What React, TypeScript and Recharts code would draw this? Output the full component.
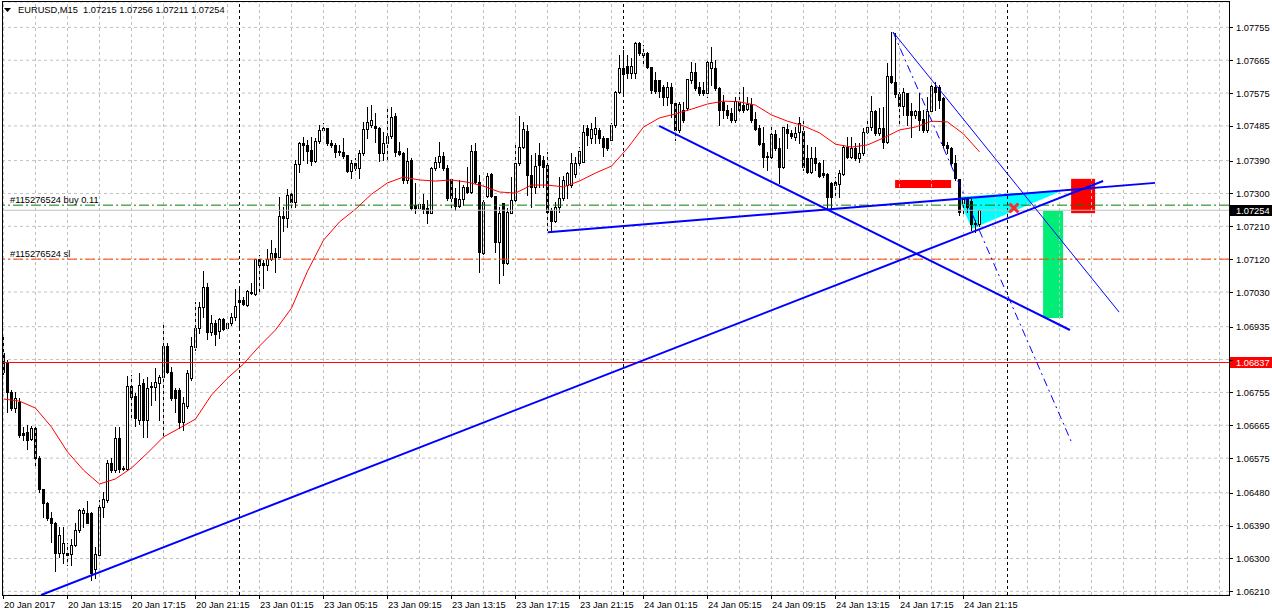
import React from 'react';
import {
  ComposedChart, Bar, Line, Area, XAxis, YAxis, CartesianGrid,
  ReferenceLine, ReferenceArea, ReferenceDot,
} from 'recharts';

// ---- candle data (EURUSD M15, prices in points = price * 100000), bar index = position ----
const openPts = [
  106863,106838,106756,106712,106729,106644,106646,106627,106657,106575,
  106490,106452,106411,106397,106315,106315,106315,106312,106337,106378,
  106424,106424,106424,106271,106309,106441,106460,106561,106542,106630,
  106548,106545,106772,106745,106679,106781,106679,106772,106770,106781,
  106797,106882,106811,106761,106761,106674,106718,106794,106879,106931,
  106989,107044,106920,106945,106923,106956,106931,106945,106961,107008,
  107008,106994,107030,107024,107120,107109,107104,107120,107137,107126,
  107238,107233,107298,107277,107381,107438,107433,107419,107389,107444,
  107474,107479,107438,107433,107416,107414,107405,107361,107383,107370,
  107411,107477,107488,107485,107479,107411,107438,107457,107512,107416,
  107411,107337,107392,107268,107260,107271,107260,107246,107370,107386,
  107403,107370,107340,107287,107266,107285,107318,107304,107416,107331,
  107137,107293,107353,107293,107167,107274,107109,107246,107282,107383,
  107427,107471,107351,107318,107405,107392,107378,107255,107224,107263,
  107287,107323,107323,107353,107383,107386,107479,107452,107463,107474,
  107452,107452,107446,107488,107578,107644,107649,107630,107630,107712,
  107679,107685,107646,107611,107611,107592,107564,107592,107548,107474,
  107529,107534,107611,107633,107592,107583,107575,107644,107644,107589,
  107551,107529,107520,107501,107551,107542,107531,107545,107504,107479,
  107438,107403,107400,107463,107424,107372,107477,107466,107455,107468,
  107471,107397,107359,107397,107383,107356,107353,107329,107331,107326,
  107353,107427,107400,107424,107397,107411,107468,107482,107526,107466,
  107479,107441,107622,107605,107572,107540,107575,107526,107515,107526,
  107504,107474,107526,107592,107592,107561,107433,107424,107383,107340,
  107274,107287,107279,107219,107215,
];
const highPts = [
  106915,106844,106761,106756,106739,106660,106666,106663,106660,106581,
  106490,106455,106427,106400,106386,106386,106342,106353,106397,106435,
  106438,106457,106427,106331,106460,106482,106570,106575,106660,106660,
  106553,106800,106803,106753,106808,106792,106797,106783,106822,106803,
  106948,106890,106824,106767,106767,106742,106816,106907,107003,107003,
  107087,107055,106967,106953,106959,106959,106948,106972,107038,107041,
  107016,107035,107055,107120,107131,107118,107148,107172,107150,107290,
  107263,107312,107309,107392,107441,107455,107446,107455,107452,107488,
  107493,107479,107446,107438,107433,107452,107405,107392,107397,107419,
  107496,107537,107542,107520,107482,107468,107537,107537,107520,107441,
  107414,107424,107397,107329,107277,107298,107282,107372,107400,107441,
  107414,107378,107342,107315,107337,107323,107372,107433,107438,107351,
  107282,107356,107356,107293,107263,107274,107260,107345,107438,107512,
  107496,107488,107405,107411,107438,107403,107414,107260,107277,107345,
  107348,107359,107411,107400,107427,107488,107488,107493,107509,107479,
  107457,107452,107493,107581,107679,107693,107679,107671,107715,107715,
  107707,107688,107646,107633,107611,107597,107605,107603,107551,107551,
  107551,107614,107660,107657,107605,107605,107666,107701,107666,107592,
  107570,107542,107534,107564,107578,107592,107564,107561,107523,107488,
  107482,107414,107488,107474,107452,107482,107490,107474,107482,107509,
  107507,107433,107427,107427,107386,107392,107356,107331,107345,107364,
  107433,107455,107455,107438,107438,107479,107507,107567,107529,107534,
  107537,107657,107742,107740,107578,107589,107575,107548,107529,107575,
  107529,107564,107597,107605,107597,107564,107441,107427,107405,107340,
  107290,107290,107287,107227,107256,
];
const lowPts = [
  106805,106701,106707,106701,106633,106624,106600,106624,106550,106482,
  106413,106405,106345,106265,106304,106287,106282,106282,106334,106372,
  106386,106397,106241,106246,106304,106413,106455,106537,106537,106537,
  106542,106542,106687,106663,106668,106633,106633,106720,106734,106679,
  106630,106808,106734,106701,106657,106652,106712,106789,106871,106918,
  106961,106901,106912,106885,106904,106926,106926,106940,106953,106934,
  106994,106992,107024,107022,107030,107041,107090,107118,107085,107126,
  107197,107208,107263,107263,107359,107392,107383,107378,107386,107438,
  107468,107433,107427,107400,107405,107397,107359,107342,107364,107342,
  107405,107452,107482,107441,107389,107392,107392,107452,107403,107405,
  107329,107329,107255,107246,107255,107246,107219,107246,107364,107372,
  107364,107282,107255,107255,107263,107268,107301,107301,107329,107085,
  107134,107290,107290,107140,107055,107077,107107,107246,107277,107378,
  107424,107296,107263,107301,107318,107318,107200,107194,107222,107249,
  107282,107287,107318,107345,107372,107386,107433,107438,107438,107438,
  107403,107419,107446,107482,107575,107575,107616,107616,107616,107679,
  107652,107644,107575,107575,107564,107542,107542,107509,107446,107468,
  107496,107529,107603,107583,107570,107570,107564,107597,107583,107488,
  107507,107507,107496,107496,107523,107523,107529,107496,107474,107433,
  107372,107364,107397,107419,107329,107370,107424,107452,107446,107438,
  107364,107356,107356,107364,107345,107345,107260,107255,107296,107290,
  107351,107397,107397,107392,107386,107405,107466,107474,107460,107460,
  107424,107438,107603,107564,107488,107515,107488,107455,107507,107474,
  107468,107468,107523,107529,107534,107427,107411,107378,107337,107241,
  107241,107249,107200,107194,107211,
];
const closePts = [
  106811,106756,106712,106739,106638,106638,106624,106657,106575,106490,
  106452,106411,106397,106315,106364,106342,106309,106337,106378,106433,
  106433,106397,106260,106312,106441,106463,106561,106542,106630,106545,
  106545,106772,106742,106685,106775,106679,106767,106770,106783,106797,
  106882,106811,106739,106739,106674,106726,106808,106882,106931,106989,
  107044,106920,106945,106915,106956,106929,106945,106961,106992,107003,
  106997,107033,107027,107120,107104,107104,107120,107137,107126,107238,
  107233,107296,107277,107381,107438,107433,107416,107389,107444,107474,
  107479,107438,107433,107414,107414,107403,107361,107383,107370,107411,
  107477,107496,107501,107479,107411,107438,107457,107509,107414,107408,
  107337,107389,107260,107260,107271,107257,107246,107370,107386,107403,
  107370,107287,107287,107266,107285,107318,107304,107416,107331,107140,
  107277,107348,107293,107167,107246,107109,107249,107282,107383,107427,
  107477,107351,107318,107375,107378,107372,107249,107224,107263,107287,
  107337,107356,107383,107383,107416,107468,107460,107477,107479,107452,
  107427,107424,107488,107578,107644,107627,107630,107649,107712,107685,
  107685,107646,107583,107581,107581,107564,107592,107548,107474,107545,
  107501,107614,107633,107589,107575,107575,107660,107660,107589,107529,
  107529,107515,107501,107553,107529,107529,107545,107501,107477,107435,
  107400,107400,107463,107424,107372,107482,107466,107457,107466,107493,
  107372,107359,107397,107383,107348,107351,107290,107290,107323,107356,
  107427,107400,107424,107397,107411,107468,107482,107526,107466,107479,
  107441,107622,107605,107572,107540,107578,107515,107515,107526,107501,
  107474,107526,107594,107578,107556,107433,107424,107383,107342,107249,
  107285,107263,107216,107216,107254,
];

// ---- moving average (red), read every 4 bars ----
const maBars = [
  0,4,8,12,16,20,24,28,32,36,40,44,48,52,56,60,64,68,72,76,80,84,88,92,96,100,
  104,108,112,116,120,124,128,132,136,140,144,148,152,156,160,164,168,172,176,180,
  184,188,192,196,200,204,208,212,216,220,224,228,232,236,240,244,
];
const maPts = [
  106737,106731,106712,106660,106592,106542,106504,106518,106548,106589,
  106633,106657,106682,106748,106794,106833,106882,106926,106986,107087,
  107172,107222,107257,107298,107329,107345,107337,107334,107337,107331,
  107320,107304,107301,107323,107323,107318,107334,107356,107375,107424,
  107482,107507,107518,107531,107545,107553,107551,107542,107515,107498,
  107485,107466,107435,107427,107433,107452,107474,107482,107498,107496,
  107463,107414,
];

// ---- axes ----
const priceTicks = [
  1.07755, 1.07665, 1.07575, 1.07485, 1.0739, 1.073, 1.0721, 1.0712, 1.0703,
  1.06935, 1.06845, 1.06755, 1.06665, 1.06575, 1.0648, 1.0639, 1.063, 1.0621,
];
const priceTickLabels = [
  '1.07755', '1.07665', '1.07575', '1.07485', '1.07390', '1.07300', '1.07210', '1.07120', '1.07030',
  '1.06935', '', '1.06755', '1.06665', '1.06575', '1.06480', '1.06390', '1.06300', '1.06210',
];
const timeTickBars = [0, 16, 32, 48, 64, 80, 96, 112, 128, 144, 160, 176, 192, 208, 224, 240];
const timeTickLabels = [
  '20 Jan 2017', '20 Jan 13:15', '20 Jan 17:15', '20 Jan 21:15', '23 Jan 01:15', '23 Jan 05:15',
  '23 Jan 09:15', '23 Jan 13:15', '23 Jan 17:15', '23 Jan 21:15', '24 Jan 01:15', '24 Jan 05:15',
  '24 Jan 09:15', '24 Jan 13:15', '24 Jan 17:15', '24 Jan 21:15',
];
const gridBars = [
  0, 8, 16, 24, 32, 40, 48, 56, 64, 72, 80, 88, 96, 104, 112, 120, 128, 136, 144, 152,
  160, 168, 176, 184, 192, 200, 208, 216, 224, 232, 240, 248, 256, 264, 272, 280, 288, 296, 304,
];
const daySeparatorBars = [59, 155, 251];

// ---- levels ----
const levelRed = 1.06837;
const orderOpenPrice = 1.07268;
const stopLossPrice = 1.0712;
const bidPrice = 1.07254;
const orderText = '#115276524 buy 0.11';
const slText = '#115276524 sl';
const titleText = 'EURUSD,M15  1.07215 1.07256 1.07211 1.07254';

// ---- trendlines (bar, price) ----
const trendStartBars = [136.1, 9.4, 163.9, 222.4, 222.4];
const trendStartPrices = [1.07194, 1.062, 1.07485, 1.07742, 1.07742];
const trendEndBars = [287.9, 274.9, 266.6, 278.9, 267.1];
const trendEndPrices = [1.07329, 1.07334, 1.06926, 1.06975, 1.06616];
const trendWidths = [2, 2, 2, 1, 1];
const trendDashes = [undefined, undefined, undefined, undefined, '8 4 2 4'];

// ---- cyan triangle ----
const triBars = [238.6, 242.1, 264.9];
const triLow = [1.0729, 1.07203, 1.07309];
const triHigh = [1.0729, 1.07293, 1.07309];

// ---- rectangles ----
const boxX1 = [222.9, 259.9, 266.9];
const boxX2 = [236.9, 264.9, 272.9];
const boxY1 = [1.07315, 1.06959, 1.07246];
const boxY2 = [1.07337, 1.07252, 1.0734];
const boxColors = ['#ff0000', '#00ee76', '#ff0000'];

// ---- cross marker ----
const crossBar = 252.6;
const crossPrice = 1.0726;

const PRICE_DOMAIN: [number, number] = [1.062, 1.078245];
const BAR_DOMAIN: [number, number] = [-0.375, 306.375];
const FONT = '"Liberation Sans", Arial, sans-serif';
const FS = 9.3;

const candleRows = openPts.map((o, i) => ({
  i,
  o: o / 1e5,
  h: highPts[i] / 1e5,
  l: lowPts[i] / 1e5,
  c: closePts[i] / 1e5,
  range: [lowPts[i] / 1e5, highPts[i] / 1e5],
}));
const maRows = maBars.map((b, k) => ({ i: b, ma: maPts[k] / 1e5 }));
const triRows = triBars.map((b, k) => ({ i: b, tri: [triLow[k], triHigh[k]] }));

const Candle = (props: any) => {
  const { x, y, width, height, payload } = props;
  if (!payload || x == null || y == null || !isFinite(x) || !isFinite(y)) return null;
  const { o, h, l, c } = payload;
  const top = Math.min(y, y + height);
  const bot = Math.max(y, y + height);
  const span = h - l;
  const py = (p: number) => (span > 0 ? top + ((h - p) / span) * (bot - top) : top);
  const cx = Math.floor(x + width / 2) + 0.5;
  const yH = Math.round(top);
  const yL = Math.round(bot);
  const bTop = Math.round(py(Math.max(o, c)));
  const bBot = Math.round(py(Math.min(o, c)));
  const bull = c > o;
  return (
    <g>
      <line x1={cx} x2={cx} y1={yH} y2={yL + 1} stroke="#000" strokeWidth={1} />
      {bBot - bTop >= 1 ? (
        <rect x={cx - 1} y={bTop + 0.5} width={2} height={bBot - bTop}
          fill={bull ? '#ffffff' : '#000000'} stroke="#000" strokeWidth={1} />
      ) : (
        <line x1={cx - 1.5} x2={cx + 1.5} y1={bTop + 0.5} y2={bTop + 0.5} stroke="#000" strokeWidth={1} />
      )}
    </g>
  );
};

const TimeTick = (props: any) => {
  const { x, y, payload } = props;
  const k = timeTickBars.indexOf(payload.value);
  const px = Math.floor(x) + 0.5;
  return (
    <g>
      <line x1={px} x2={px} y1={y} y2={y + 4} stroke="#000" strokeWidth={1} />
      <text x={px + 0.5} y={y + 13} fontSize={FS} fontFamily={FONT} fill="#000" textAnchor="start">
        {timeTickLabels[k]}
      </text>
    </g>
  );
};

const PriceTick = (props: any) => {
  const { x, y, payload } = props;
  const k = priceTicks.indexOf(payload.value);
  const py = Math.round(y) + 0.5;
  return (
    <g>
      <line x1={x} x2={x + 4} y1={py} y2={py} stroke="#000" strokeWidth={1} />
      <text x={x + 7} y={y + 3.5} fontSize={FS} fontFamily={FONT} fill="#000" textAnchor="start">
        {priceTickLabels[k]}
      </text>
    </g>
  );
};

const lineText = (text: string) => (props: any) => {
  const vb = props.viewBox || {};
  return (
    <text x={vb.x + 8} y={vb.y - 2.5} fontSize={FS} fontFamily={FONT} fill="#000" textAnchor="start">
      {text}
    </text>
  );
};

const axisBox = (text: string, bg: string) => (props: any) => {
  const vb = props.viewBox || {};
  const yy = Math.round(vb.y);
  const bx = vb.x + vb.width + 1;
  return (
    <g>
      <rect x={bx} y={yy - 5} width={43} height={11} fill={bg} />
      <text x={bx + 6} y={yy + 4} fontSize={FS} fontFamily={FONT} fill="#fff" textAnchor="start">
        {text}
      </text>
    </g>
  );
};

const Cross = (props: any) => {
  const { cx, cy } = props;
  if (cx == null || cy == null) return null;
  return (
    <g>
      <line x1={cx - 4.5} y1={cy - 4.5} x2={cx + 4.5} y2={cy + 4.5} stroke="#ff2a2a" strokeWidth={3} />
      <line x1={cx + 4.5} y1={cy - 4.5} x2={cx - 4.5} y2={cy + 4.5} stroke="#ff2a2a" strokeWidth={3} />
    </g>
  );
};

export default function App() {
  return (
    <div style={{ position: 'absolute', left: 0, top: 0, width: 1272, height: 616, background: '#fff', overflow: 'hidden' }}>
      <ComposedChart width={1272} height={616} data={candleRows} margin={{ top: 2, right: 0, bottom: 0, left: 2 }}>
        <XAxis dataKey="i" type="number" domain={BAR_DOMAIN} allowDataOverflow ticks={timeTickBars}
          tick={<TimeTick />} tickLine={false} axisLine={false} tickSize={0} tickMargin={0} height={21} interval={0} />
        <YAxis orientation="right" type="number" domain={PRICE_DOMAIN} allowDataOverflow ticks={priceTicks}
          tick={<PriceTick />} tickLine={false} axisLine={false} tickSize={0} tickMargin={0} width={43} interval={0} />

        {boxX1.map((x1, k) => (
          <ReferenceArea key={'box' + k} x1={x1} x2={boxX2[k]} y1={boxY1[k]} y2={boxY2[k]}
            fill={boxColors[k]} fillOpacity={1} stroke="none" ifOverflow="visible" />
        ))}

        <CartesianGrid vertical={false} stroke="#c0c0c0" strokeDasharray="3 3" />
        {gridBars.map((b) => (
          <ReferenceLine key={'g' + b} x={b} stroke="#c0c0c0" strokeDasharray="3 3" />
        ))}
        {daySeparatorBars.map((b) => (
          <ReferenceLine key={'d' + b} x={b} stroke="#000" strokeDasharray="3 3" />
        ))}

        <Area data={triRows} dataKey="tri" type="linear" stroke="none" fill="#00ffff" fillOpacity={1}
          isAnimationActive={false} dot={false} activeDot={false} />

        <ReferenceLine y={levelRed} stroke="#ff0000" strokeWidth={1} label={axisBox('1.06837', '#ff0000')} />
        <ReferenceLine y={orderOpenPrice} stroke="#008000" strokeDasharray="10 3 2 3" label={lineText(orderText)} />
        <ReferenceLine y={stopLossPrice} stroke="#ff4500" strokeDasharray="10 3 2 3" label={lineText(slText)} />

        <Line data={maRows} dataKey="ma" type="linear" stroke="#ff0000" strokeWidth={1} dot={false}
          activeDot={false} isAnimationActive={false} />

        <Bar dataKey="range" barSize={3} shape={<Candle />} isAnimationActive={false} />

        <ReferenceLine y={bidPrice} stroke="#c0c0c0" strokeWidth={1} label={axisBox('1.07254', '#000000')} />

        {trendStartBars.map((b, k) => (
          <ReferenceLine key={'t' + k} ifOverflow="hidden"
            segment={[{ x: b, y: trendStartPrices[k] }, { x: trendEndBars[k], y: trendEndPrices[k] }]}
            stroke="#0000ff" strokeWidth={trendWidths[k]} strokeDasharray={trendDashes[k]} />
        ))}

        <ReferenceDot x={crossBar} y={crossPrice} r={5} shape={<Cross />} ifOverflow="visible" />
      </ComposedChart>

      <div style={{ position: 'absolute', left: 2, top: 1, width: 1228, height: 595, border: '1px solid #000', boxSizing: 'border-box', pointerEvents: 'none' }} />
      <svg style={{ position: 'absolute', left: 4, top: 8 }} width={8} height={5}>
        <polygon points="0,0 7,0 3.5,4" fill="#000" />
      </svg>
      <div style={{ position: 'absolute', left: 18, top: 5, fontFamily: FONT, fontSize: FS, lineHeight: '11px', whiteSpace: 'pre', color: '#000' }}>
        {titleText}
      </div>
    </div>
  );
}
